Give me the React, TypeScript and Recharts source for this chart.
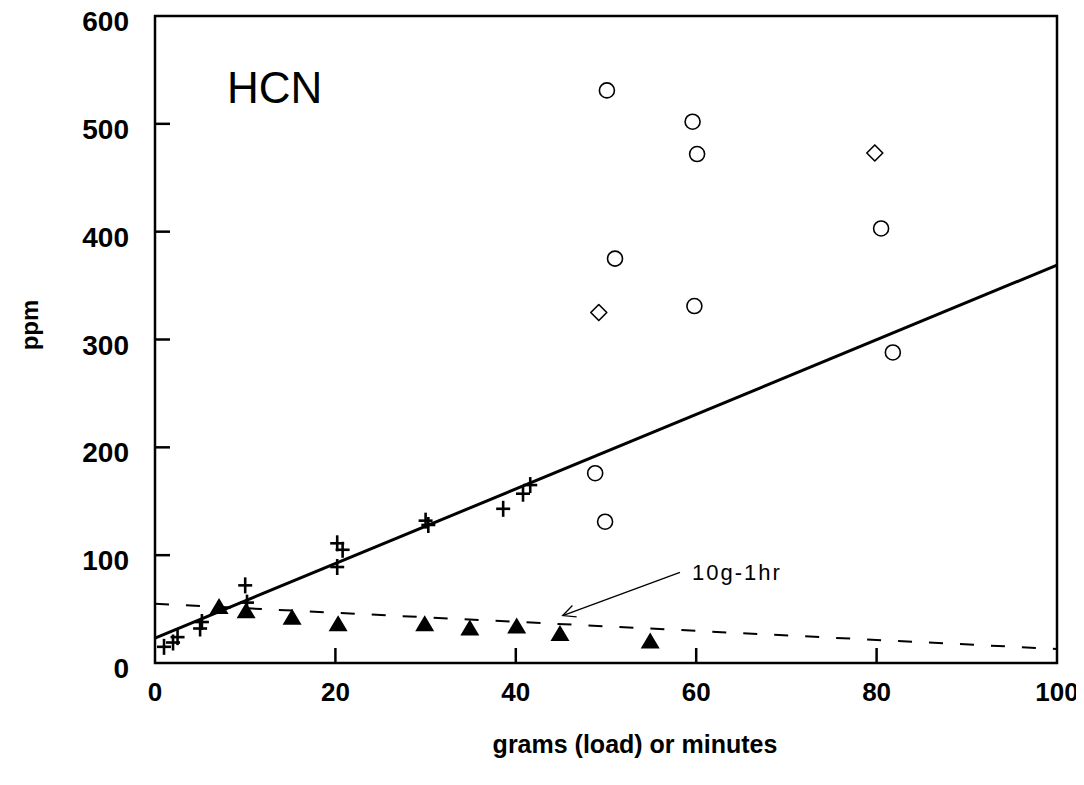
import { ReferenceArea, ReferenceLine, Scatter, ScatterChart, XAxis, YAxis } from 'recharts';

const FONT = '"Liberation Sans", Arial, Helvetica, sans-serif';
const INK = '#000';

// tick labels
const xTicks = [0, 20, 40, 60, 80, 100];
const yTicks = [0, 100, 200, 300, 400, 500, 600];

// "+" points
const plusX = [1, 2, 2.5, 5, 5.2, 10, 10.2, 20.2, 20.8, 20.2, 30, 30.3, 38.6, 40.8, 41.6];
const plusY = [15, 19, 24, 32, 38, 72, 56, 111, 105, 89, 132, 128, 143, 157, 165];

// open circles
const circleX = [50.1, 59.6, 60.1, 80.5, 51, 59.8, 81.8, 48.8, 49.9];
const circleY = [531, 502, 472, 403, 375, 331, 288, 176, 131];

// open diamonds
const diamondX = [79.8, 49.2];
const diamondY = [473, 325];

// filled triangles (10g-1hr series, x = minutes)
const triX = [7.1, 10.1, 15.2, 20.3, 29.9, 34.9, 40.1, 44.9, 54.9];
const triY = [51, 47, 41, 35, 35, 31, 33, 26, 19];

// fitted lines
const fitX = [0, 100];
const fitY = [23, 369];
const dashFitY = [55, 13];

const zip = (xs: number[], ys: number[]) => xs.map((x, i) => ({ x, y: ys[i] }));

const plusData = zip(plusX, plusY);
const circleData = zip(circleX, circleY);
const diamondData = zip(diamondX, diamondY);
const triData = zip(triX, triY);
const fitData = zip(fitX, fitY);
const dashFitData = zip(fitX, dashFitY);

const Plus = ({ cx, cy }: any) => (
  <g stroke={INK} strokeWidth={2.6}>
    <line x1={cx - 7} y1={cy} x2={cx + 7} y2={cy} />
    <line x1={cx} y1={cy - 8} x2={cx} y2={cy + 8} />
  </g>
);

const Circle = ({ cx, cy }: any) => (
  <circle cx={cx} cy={cy} r={7.5} fill="none" stroke={INK} strokeWidth={1.6} />
);

const Diamond = ({ cx, cy }: any) => (
  <path
    d={`M${cx},${cy - 8}L${cx + 8},${cy}L${cx},${cy + 8}L${cx - 8},${cy}Z`}
    fill="none"
    stroke={INK}
    strokeWidth={1.6}
    strokeLinejoin="round"
  />
);

const Tri = ({ cx, cy }: any) => (
  <path d={`M${cx},${cy - 10}L${cx + 9.5},${cy + 6}L${cx - 9.5},${cy + 6}Z`} fill={INK} />
);

const NoDot = () => <g />;

const XTick = ({ x, y, payload }: any) => {
  const v = payload.value;
  return (
    <g>
      {v !== 0 && v !== 100 && <line x1={x} y1={y} x2={x} y2={y - 15} stroke={INK} strokeWidth={2.5} />}
      <text x={x} y={y + 38} textAnchor="middle" fontFamily={FONT} fontWeight="bold" fontSize={26} fill={INK}>
        {v}
      </text>
    </g>
  );
};

const YTick = ({ x, y, payload }: any) => {
  const v = payload.value;
  return (
    <g>
      {v !== 0 && v !== 600 && <line x1={x} y1={y} x2={x + 15} y2={y} stroke={INK} strokeWidth={2.5} />}
      <text x={x - 26} y={y + 15} textAnchor="end" fontFamily={FONT} fontWeight="bold" fontSize={28} fill={INK}>
        {v}
      </text>
    </g>
  );
};

const Arrow = ({ x1, y1, x2, y2 }: any) => {
  const ang = Math.atan2(y1 - y2, x1 - x2);
  const len = 14;
  const spread = 0.45;
  return (
    <g>
      <line x1={x1} y1={y1} x2={x2} y2={y2} stroke={INK} strokeWidth={1.3} />
      <polyline
        points={`${x2 + len * Math.cos(ang - spread)},${y2 + len * Math.sin(ang - spread)} ${x2},${y2} ${
          x2 + len * Math.cos(ang + spread)
        },${y2 + len * Math.sin(ang + spread)}`}
        fill="none"
        stroke={INK}
        strokeWidth={1.3}
      />
      <text x={x1 + 12} y={y1 + 8} fontFamily={FONT} fontSize={22} letterSpacing={2} fill={INK}>
        10g-1hr
      </text>
    </g>
  );
};

// the wrapper is pulled up over the body margin so the top label has room
const W = 1076;
const H = 777;

export default function App() {
  return (
    <div style={{ position: 'relative', width: W, height: H, marginTop: -8, background: '#fff' }}>
      <ScatterChart width={W} height={H} margin={{ top: 16, right: 27, bottom: 0, left: 0 }}>
        <XAxis
          type="number"
          dataKey="x"
          domain={[0, 100]}
          ticks={xTicks}
          axisLine={false}
          tickLine={false}
          tickSize={0}
          tickMargin={0}
          height={114}
          tick={<XTick />}
          interval={0}
        />
        <YAxis
          type="number"
          dataKey="y"
          domain={[0, 600]}
          ticks={yTicks}
          axisLine={false}
          tickLine={false}
          tickSize={0}
          tickMargin={0}
          width={147}
          tick={<YTick />}
          interval={0}
        />
        <ReferenceArea x1={0} x2={100} y1={0} y2={600} fill="none" stroke={INK} strokeWidth={2.5} strokeOpacity={1} fillOpacity={0} />
        <Scatter data={fitData} line={{ stroke: INK, strokeWidth: 3 }} lineType="joint" shape={<NoDot />} isAnimationActive={false} />
        <Scatter
          data={dashFitData}
          line={{ stroke: INK, strokeWidth: 2, strokeDasharray: '14 17' }}
          lineType="joint"
          shape={<NoDot />}
          isAnimationActive={false}
        />
        <Scatter data={plusData} shape={<Plus />} isAnimationActive={false} />
        <Scatter data={circleData} shape={<Circle />} isAnimationActive={false} />
        <Scatter data={diamondData} shape={<Diamond />} isAnimationActive={false} />
        <Scatter data={triData} shape={<Tri />} isAnimationActive={false} />
        <ReferenceLine
          segment={[
            { x: 58.2, y: 84 },
            { x: 45.2, y: 44 },
          ]}
          shape={<Arrow />}
        />
      </ScatterChart>
      <div
        style={{
          position: 'absolute',
          left: 219,
          top: 66,
          fontFamily: FONT,
          fontSize: 44,
          lineHeight: 1,
          color: INK,
          whiteSpace: 'nowrap',
        }}
      >
        HCN
      </div>
      <div
        style={{
          position: 'absolute',
          left: 627,
          top: 753 - 0.85 * 25,
          transform: 'translateX(-50%)',
          fontFamily: FONT,
          fontWeight: 'bold',
          fontSize: 25,
          lineHeight: 1,
          color: INK,
          whiteSpace: 'nowrap',
        }}
      >
        grams (load) or minutes
      </div>
      <div
        style={{
          position: 'absolute',
          left: 22,
          top: 325,
          transform: 'translate(-50%, -50%) rotate(-90deg)',
          fontFamily: FONT,
          fontWeight: 'bold',
          fontSize: 24,
          lineHeight: 1,
          color: INK,
          whiteSpace: 'nowrap',
        }}
      >
        ppm
      </div>
    </div>
  );
}
